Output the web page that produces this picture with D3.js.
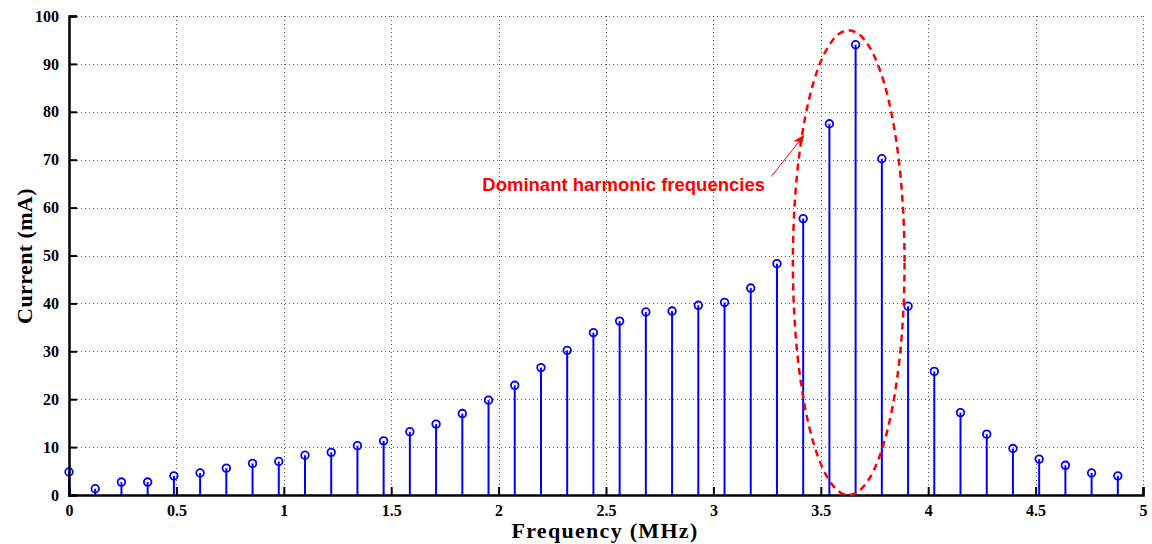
<!DOCTYPE html>
<html><head><meta charset="utf-8">
<script src="https://cdn.jsdelivr.net/npm/d3@7"></script>
<style>body{margin:0;background:#fff}svg{display:block}</style>
</head><body>
<svg id="c" width="1152" height="544"></svg>
<script>
const freqs = [0,0.1221,0.2441,0.3662,0.4883,0.6104,0.7324,0.8545,0.9766,1.0986,1.2207,1.3428,1.4648,1.5869,1.709,1.8311,1.9531,2.0752,2.1973,2.3193,2.4414,2.5635,2.6855,2.8076,2.9297,3.0518,3.1738,3.2959,3.418,3.54,3.6621,3.7842,3.9063,4.0283,4.1504,4.2725,4.3945,4.5166,4.6387,4.7607,4.8828];
const current = [4.8,1.3,2.7,2.7,4.0,4.6,5.6,6.6,7.0,8.3,8.9,10.3,11.3,13.2,14.8,17.0,19.8,22.9,26.6,30.2,33.9,36.3,38.2,38.4,39.6,40.2,43.2,48.3,57.7,77.5,94.0,70.2,39.4,25.8,17.2,12.7,9.7,7.5,6.2,4.6,4.0];
const xTicks = [0,0.5,1,1.5,2,2.5,3,3.5,4,4.5,5];
const yTicks = [0,10,20,30,40,50,60,70,80,90,100];
const annotation = "Dominant harmonic frequencies";
const ellipse = {cx:3.63, cy:48.5, rx:0.26, ry:48.5};
const arrowFrom = [3.27, 66.5];
const arrowTo = [3.42, 75];

const svg = d3.select("#c");
const L=69, R=1143, T=16, B=495;
const x = d3.scaleLinear().domain([0,5]).range([L,R]);
const y = d3.scaleLinear().domain([0,100]).range([B,T]);

// grid
const grid = svg.append("g").attr("stroke","#555").attr("stroke-width",1).attr("stroke-dasharray","1,3");
grid.selectAll(".gx").data(xTicks.filter(d=>d>0)).join("line")
  .attr("x1",d=>Math.round(x(d))+0.5).attr("x2",d=>Math.round(x(d))+0.5).attr("y1",T).attr("y2",B);
grid.selectAll(".gy").data(yTicks.filter(d=>d>0)).join("line")
  .attr("y1",d=>Math.round(y(d))+0.5).attr("y2",d=>Math.round(y(d))+0.5).attr("x1",L).attr("x2",R);

// stems
svg.append("g").selectAll("line").data(freqs).join("line")
  .attr("x1",d=>x(d)).attr("x2",d=>x(d)).attr("y1",y(0)).attr("y2",(d,i)=>y(current[i]))
  .attr("stroke","#0000ff").attr("stroke-width",2);
svg.append("g").selectAll("circle").data(freqs).join("circle")
  .attr("cx",d=>x(d)).attr("cy",(d,i)=>y(current[i])).attr("r",3.8)
  .attr("fill","none").attr("stroke","#0000ff").attr("stroke-width",1.8);

// axes
const xAxis = d3.axisBottom(x).tickValues(xTicks).tickSize(-8).tickPadding(14).tickFormat(d3.format("~g"));
const yAxis = d3.axisLeft(y).tickValues(yTicks).tickSize(-8).tickPadding(14);
const gx = svg.append("g").attr("transform",`translate(0,${B})`).call(xAxis);
const gy = svg.append("g").attr("transform",`translate(${L},0)`).call(yAxis);
[gx,gy].forEach(g=>{
  g.select(".domain").attr("stroke","#000").attr("stroke-width",2.5);
  g.selectAll(".tick line").attr("stroke","#000").attr("stroke-width",2);
  g.selectAll(".tick text").attr("font-family","Liberation Serif").attr("font-size",16).attr("font-weight","bold").attr("fill","#000");
});
gx.selectAll(".tick text").attr("dy","0.45em");
gy.selectAll(".tick text").attr("dx","4");

// titles
svg.append("text").attr("x",(L+R)/2 - 1).attr("y",538).attr("text-anchor","middle")
  .attr("font-family","Liberation Serif").attr("font-weight","bold").attr("font-size",22).attr("letter-spacing",1.3).text("Frequency (MHz)");
svg.append("text").attr("transform",`translate(32,${256}) rotate(-90)`).attr("text-anchor","middle")
  .attr("font-family","Liberation Serif").attr("font-weight","bold").attr("font-size",22).attr("letter-spacing",0.4).text("Current (mA)");

// ellipse annotation
svg.append("ellipse").attr("cx",x(ellipse.cx)).attr("cy",y(ellipse.cy))
  .attr("rx",x(ellipse.rx)-x(0)).attr("ry",y(0)-y(ellipse.ry))
  .attr("fill","none").attr("stroke","#ff0000").attr("stroke-width",2.5).attr("stroke-dasharray","7,5");

// arrow
svg.append("defs").append("marker").attr("id","ah").attr("viewBox","0 0 10 10").attr("refX",9).attr("refY",5)
  .attr("markerWidth",12).attr("markerHeight",12).attr("markerUnits","userSpaceOnUse").attr("orient","auto")
  .append("path").attr("d","M0,1 L10,5 L0,9 L3,5 Z").attr("fill","#ff0000");
svg.append("line").attr("x1",x(arrowFrom[0])).attr("y1",y(arrowFrom[1])).attr("x2",x(arrowTo[0])).attr("y2",y(arrowTo[1]))
  .attr("stroke","#ff0000").attr("stroke-width",1).attr("marker-end","url(#ah)");
svg.append("text").attr("x",765).attr("y",191).attr("text-anchor","end")
  .attr("font-family","Liberation Sans").attr("font-weight","bold").attr("font-size",18.5).attr("fill","#ff0000").text(annotation);
</script>
</body></html>
